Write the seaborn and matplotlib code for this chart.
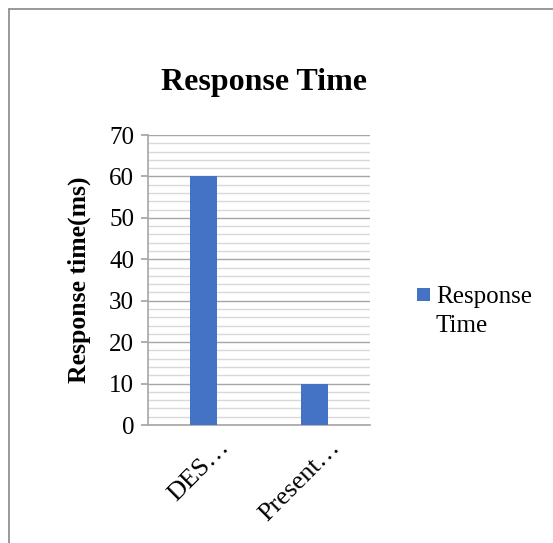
import matplotlib
matplotlib.use("Agg")
import matplotlib.pyplot as plt
import matplotlib.transforms as mtransforms
from matplotlib.patches import Rectangle
from matplotlib.ticker import MultipleLocator
import seaborn as sns
import pandas as pd

categories = ["DES…", "Present…"]
values = [60, 10]
series_name = "Response Time"
title = "Response Time"
ylabel = "Response time(ms)"

sns.set_theme(style="white")
plt.rcParams["font.family"] = ["Liberation Serif", "DejaVu Serif"]
plt.rcParams["text.color"] = "black"
plt.rcParams["axes.labelcolor"] = "black"
plt.rcParams["xtick.color"] = "black"
plt.rcParams["ytick.color"] = "black"

W, H = 553, 543
fig = plt.figure(figsize=(W / 100, H / 100), dpi=100)
ax = fig.add_axes([148 / W, 1 - 425 / H, (370 - 148) / W, (425 - 135) / H])

df = pd.DataFrame({"cat": categories, "val": values})
sns.barplot(data=df, x="cat", y="val", ax=ax, color="#4472C4", width=0.25,
            saturation=1, linewidth=0, zorder=3)

ax.set_ylim(0, 70)
ax.yaxis.set_major_locator(MultipleLocator(10))
ax.yaxis.set_minor_locator(MultipleLocator(2))
ax.grid(which="minor", axis="y", color="#d9d9d9", linewidth=1, zorder=0)
ax.grid(which="major", axis="y", color="#a6a6a6", linewidth=1, zorder=1)
ax.set_axisbelow(True)
for s in ["top", "right"]:
    ax.spines[s].set_visible(False)
for s in ["left", "bottom"]:
    ax.spines[s].set_color("#a6a6a6")
    ax.spines[s].set_linewidth(1.2)
ax.tick_params(axis="y", which="major", left=True, length=5, color="#a6a6a6",
               labelcolor="black", labelsize=18, pad=5)
ax.tick_params(axis="y", which="minor", left=False)
ax.tick_params(axis="x", bottom=False, labelsize=19, labelcolor="black", pad=6)
ax.set_xlabel("")
ax.set_ylabel(ylabel, fontsize=18.5, fontweight="bold", labelpad=13, color="black")

offset = mtransforms.ScaledTranslation(22 / 100, -2 / 100, fig.dpi_scale_trans)
for lab in ax.get_xticklabels():
    lab.set_rotation(45)
    lab.set_ha("right")
    lab.set_va("center")
    lab.set_rotation_mode("anchor")
    lab.set_transform(lab.get_transform() + offset)

fig.text(264 / W, 1 - 83 / H, title, ha="center", va="center",
         fontsize=23, fontweight="bold", color="black")

# legend
fig.patches.append(Rectangle((417 / W, 1 - 301 / H), 13 / W, 13 / H,
                             transform=fig.transFigure, facecolor="#4472C4",
                             edgecolor="none"))
fig.text(436 / W, 1 - 286 / H, "Response\nTime", ha="left", va="top",
         fontsize=18, linespacing=1.4, color="black")

# outer frame (top and left)
fig.add_artist(plt.Line2D([9 / W, 1], [1 - 9 / H, 1 - 9 / H],
                          transform=fig.transFigure, color="#888888", linewidth=1.2))
fig.add_artist(plt.Line2D([9 / W, 9 / W], [0, 1 - 9 / H],
                          transform=fig.transFigure, color="#888888", linewidth=1.2))

fig.savefig("out.png", dpi=100, facecolor="white")
